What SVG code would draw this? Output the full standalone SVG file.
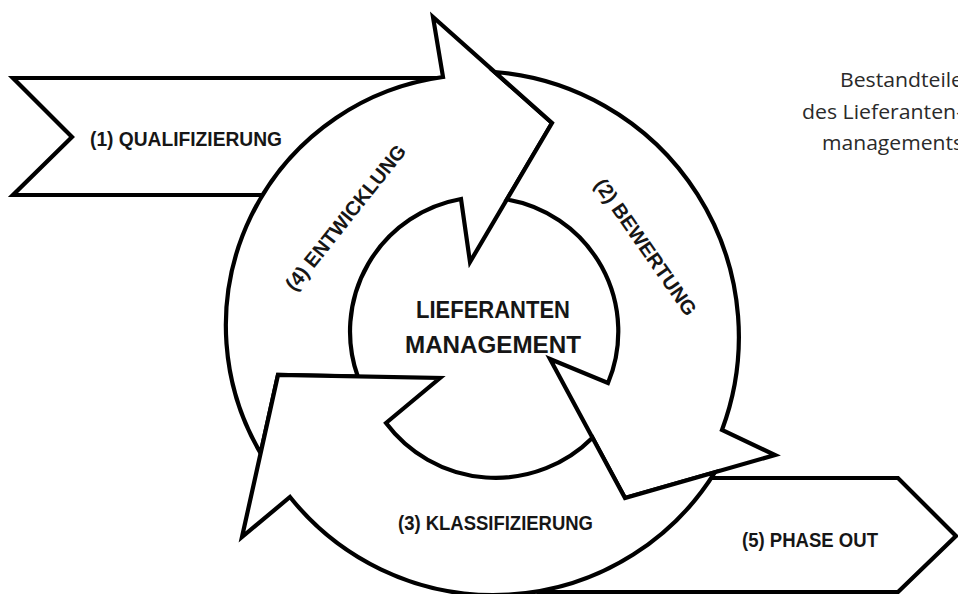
<svg xmlns="http://www.w3.org/2000/svg" width="958" height="594" viewBox="0 0 958 594">
<style>
.shape { fill:#ffffff; stroke:#000000; stroke-width:4.2; stroke-linejoin:miter; stroke-miterlimit:10; }
.lbl { font-family:"Liberation Sans", Arial, sans-serif; font-weight:bold; font-size:20px; fill:#161616; }
.big { font-size:23px; }
.cap { font-family:"Open Sans", "Noto Sans", sans-serif; font-size:20px; fill:#2a2a2a; }
</style>
<rect width="958" height="594" fill="#ffffff"/>
<g id="caption">
  <text class="cap" x="840" y="87" textLength="123" lengthAdjust="spacingAndGlyphs">Bestandteile</text>
  <text class="cap" x="802" y="119" textLength="161" lengthAdjust="spacingAndGlyphs">des Lieferanten-</text>
  <text class="cap" x="822" y="150" textLength="141" lengthAdjust="spacingAndGlyphs">managements</text>
</g>
<g id="qualifizierung">
  <polygon class="shape" points="13,78 445,78 440,195 13,195 72,137"/>
  <text class="lbl" x="90" y="146" textLength="192" lengthAdjust="spacingAndGlyphs">(1) QUALIFIZIERUNG</text>
</g>
<g id="phase-out">
  <polygon class="shape" points="620,478 898,478 956,536 898,592 540,592"/>
  <text class="lbl" x="742" y="547" textLength="136" lengthAdjust="spacingAndGlyphs">(5) PHASE OUT</text>
</g>
<g id="entwicklung">
  <path class="shape" d="M 260.6,453.1 A 251 251 0 0 1 443,77 L 433,17 L 552,123 L 470,262 L 461,199 A 134.5 134.5 0 0 0 357.8,376.5 L 278,375 Z"/>
</g>
<g id="bewertung">
  <path class="shape" d="M 494.7,72 A 265.7 265.7 0 0 1 722,430 L 775,455 L 625,498 L 550,359 L 608,383 A 134 134 0 0 0 506.9,199.4 L 552,123 Z"/>
</g>
<g id="klassifizierung">
  <path class="shape" d="M 715,472.2 A 260.6 260.6 0 0 1 290,497 L 242,537 L 278,375 L 440,378 L 386,423 A 137 137 0 0 0 592.5,437.7 L 625,498 Z"/>
</g>
<g id="labels">
  <text class="lbl" transform="translate(351,222) rotate(-51.4)" text-anchor="middle" textLength="180" lengthAdjust="spacingAndGlyphs">(4) ENTWICKLUNG</text>
  <text class="lbl" transform="translate(640,251) rotate(55)" text-anchor="middle" textLength="162" lengthAdjust="spacingAndGlyphs">(2) BEWERTUNG</text>
  <text class="lbl" x="398" y="530" textLength="195" lengthAdjust="spacingAndGlyphs">(3) KLASSIFIZIERUNG</text>
</g>
<g id="lieferanten-management">
  <text class="lbl big" x="493" y="318" text-anchor="middle" textLength="154" lengthAdjust="spacingAndGlyphs">LIEFERANTEN</text>
  <text class="lbl big" x="493" y="353" text-anchor="middle" textLength="176" lengthAdjust="spacingAndGlyphs">MANAGEMENT</text>
</g>
</svg>
